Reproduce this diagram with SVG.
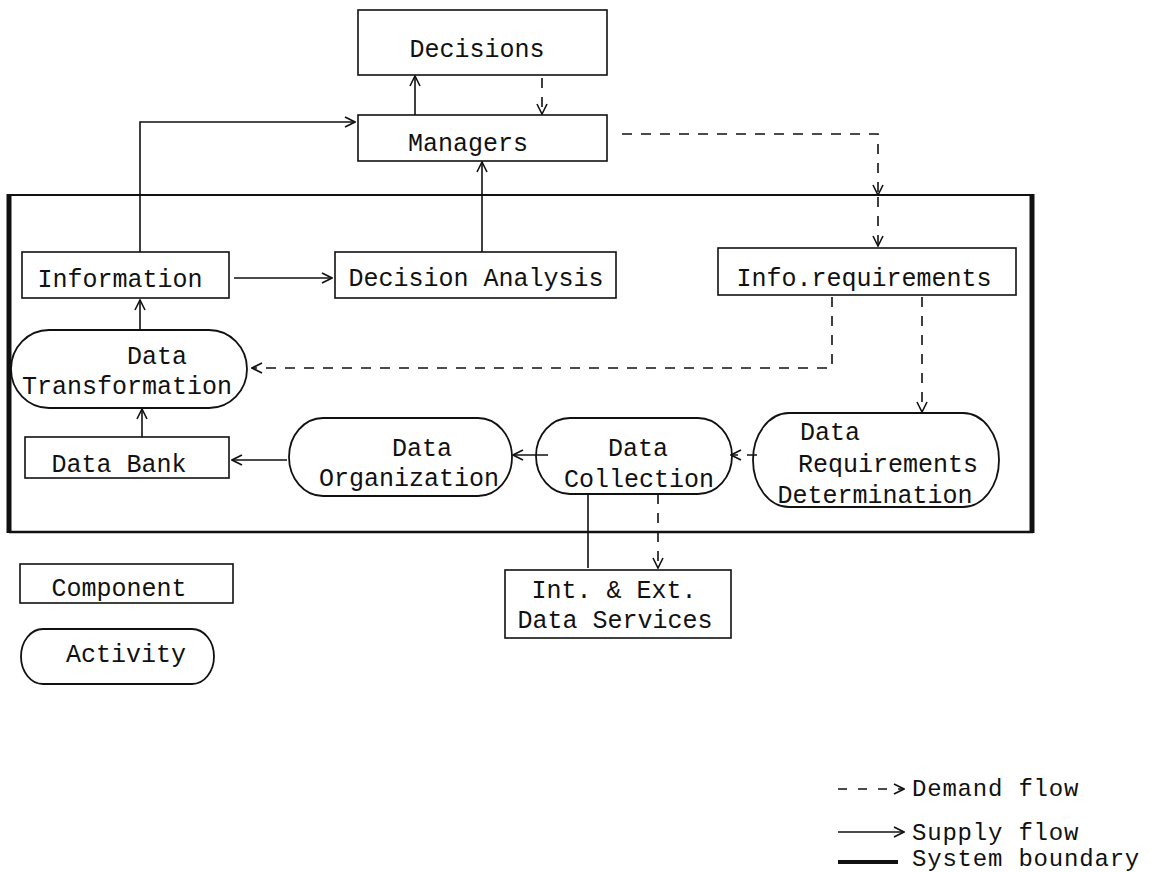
<svg xmlns="http://www.w3.org/2000/svg" width="1162" height="872" viewBox="0 0 1162 872">
<style>
.box{fill:none;stroke:#111;stroke-width:1.6}
.act{fill:none;stroke:#111;stroke-width:1.8}
.t{font-family:"Liberation Mono","DejaVu Sans Mono",monospace;font-size:25px;fill:#111;text-anchor:middle}
.tl{font-family:"Liberation Mono","DejaVu Sans Mono",monospace;font-size:24px;fill:#111;letter-spacing:0.8px}
.s{fill:none;stroke:#111;stroke-width:1.6}
.d{fill:none;stroke:#111;stroke-width:1.6;stroke-dasharray:10 9}
</style>
<defs>
<marker id="ah" viewBox="0 0 12 12" refX="11" refY="6" markerWidth="12" markerHeight="12" markerUnits="userSpaceOnUse" orient="auto">
<path d="M1,1 L11,6 L1,11" fill="none" stroke="#111" stroke-width="1.6"/>
</marker>
</defs>
<rect width="1162" height="872" fill="#fff"/>

<g id="boundary">
<line x1="9" y1="195" x2="1033" y2="195" stroke="#111" stroke-width="2"/>
<line x1="9" y1="532" x2="1033" y2="532" stroke="#111" stroke-width="2.5"/>
<line x1="9" y1="194" x2="9" y2="533" stroke="#111" stroke-width="5"/>
<line x1="1032" y1="194" x2="1032" y2="533" stroke="#111" stroke-width="5"/>
</g>

<g id="connectors">
<path class="s" d="M415,115 V76" marker-end="url(#ah)"/>
<path class="d" d="M542,78 V114" marker-end="url(#ah)"/>
<path class="s" d="M140,252 V122 H355" marker-end="url(#ah)"/>
<path class="s" d="M482,252 V162" marker-end="url(#ah)"/>
<path class="d" d="M622,134 H878 V195" marker-end="url(#ah)"/>
<path class="d" d="M878,197 V246" marker-end="url(#ah)"/>
<path class="s" d="M234,278 H332" marker-end="url(#ah)"/>
<path class="d" d="M832,297 V368 H252" marker-end="url(#ah)"/>
<path class="d" d="M922,297 V412" marker-end="url(#ah)"/>
<path class="s" d="M140,330 V300" marker-end="url(#ah)"/>
<path class="s" d="M142,437 V409" marker-end="url(#ah)"/>
<path class="s" d="M287,460 H232" marker-end="url(#ah)"/>
<path class="s" d="M548,455 H513" marker-end="url(#ah)"/>
<path class="d" d="M757,455 H731" marker-end="url(#ah)"/>
<path class="s" d="M588,494 V568"/>
<path class="d" d="M658,494 V568" marker-end="url(#ah)"/>
</g>

<g id="decisions">
<rect class="box" x="358" y="10" width="249" height="65"/>
<text class="t" x="477" y="57">Decisions</text>
</g>
<g id="managers">
<rect class="box" x="358" y="115" width="249" height="46"/>
<text class="t" x="468" y="151">Managers</text>
</g>
<g id="information">
<rect class="box" x="22" y="252" width="207" height="46"/>
<text class="t" x="120" y="287">Information</text>
</g>
<g id="decision-analysis">
<rect class="box" x="335" y="252" width="281" height="46"/>
<text class="t" x="476" y="286">Decision Analysis</text>
</g>
<g id="info-requirements">
<rect class="box" x="718" y="248" width="298" height="47"/>
<text class="t" x="864" y="286">Info.requirements</text>
</g>
<g id="data-transformation">
<rect class="act" x="11" y="330" width="236" height="78" rx="38" ry="39"/>
<text class="t" x="157" y="364">Data</text>
<text class="t" x="127" y="394">Transformation</text>
</g>
<g id="data-bank">
<rect class="box" x="25" y="437" width="204" height="41"/>
<text class="t" x="119" y="472">Data Bank</text>
</g>
<g id="data-organization">
<rect class="act" x="289" y="418" width="223" height="78" rx="34" ry="39"/>
<text class="t" x="422" y="456">Data</text>
<text class="t" x="409" y="486">Organization</text>
</g>
<g id="data-collection">
<rect class="act" x="536" y="418" width="196" height="76" rx="34" ry="38"/>
<text class="t" x="638" y="456">Data</text>
<text class="t" x="639" y="487">Collection</text>
</g>
<g id="data-requirements-determination">
<rect class="act" x="753" y="413" width="246" height="94" rx="36" ry="47"/>
<text class="t" x="830" y="440">Data</text>
<text class="t" x="888" y="472">Requirements</text>
<text class="t" x="875" y="503">Determination</text>
</g>
<g id="int-ext-data-services">
<rect class="box" x="505" y="570" width="226" height="68"/>
<text class="t" x="614" y="598">Int. &amp; Ext.</text>
<text class="t" x="615" y="628">Data Services</text>
</g>

<g id="legend">
<rect class="box" x="20" y="564" width="213" height="39"/>
<text class="t" x="119" y="596">Component</text>
<rect class="act" x="21" y="629" width="193" height="55" rx="22" ry="27.5"/>
<text class="t" x="126" y="662">Activity</text>
<path class="d" d="M838,789 H904" marker-end="url(#ah)" style="stroke-dasharray:9 11"/>
<text class="tl" x="912" y="796">Demand flow</text>
<path class="s" d="M838,832 H904" marker-end="url(#ah)"/>
<text class="tl" x="912" y="840">Supply flow</text>
<line x1="838" y1="862" x2="898" y2="862" stroke="#111" stroke-width="4"/>
<text class="tl" x="912" y="866">System boundary</text>
</g>
</svg>
